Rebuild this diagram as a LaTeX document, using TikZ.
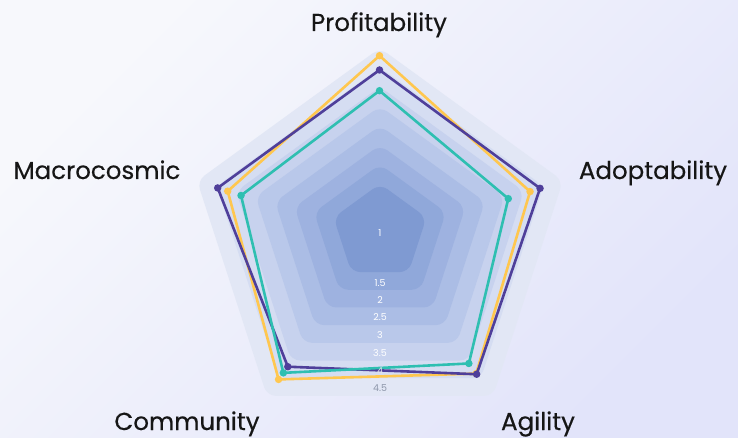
\documentclass[tikz,border=0pt]{standalone}
\usepackage{fontspec}
\setmainfont{Poppins}
\newfontfamily\labfont{Poppins}[FakeBold=0.4]
\definecolor{bgA}{HTML}{F7F8FC}
\definecolor{bgB}{HTML}{E2E4FA}
\definecolor{r7}{HTML}{E2E7F5}
\definecolor{r6}{HTML}{D5DDF2}
\definecolor{r5}{HTML}{C7D2EE}
\definecolor{r4}{HTML}{B9C8EA}
\definecolor{r3}{HTML}{ABBDE5}
\definecolor{r2}{HTML}{9EB2E0}
\definecolor{r1}{HTML}{90A8DA}
\definecolor{r0}{HTML}{7F9AD2}
\definecolor{cyel}{HTML}{FFC74F}
\definecolor{cpur}{HTML}{4F3F9A}
\definecolor{cteal}{HTML}{2EBFB1}
\definecolor{tickgray}{HTML}{8E97AA}
\definecolor{labink}{HTML}{161616}
\tikzset{
  lab/.style={font=\labfont\fontsize{24.5}{24.5}\selectfont, text=labink, anchor=base, inner sep=0pt},
  tick/.style={font=\fontsize{9.5}{9.5}\selectfont, text=white, inner sep=0pt},
  series/.style={line width=2.6pt, line join=round},
  dot/.style={circle, fill=#1, minimum size=7.5pt, inner sep=0pt}
}
\begin{document}
\begin{tikzpicture}[x=1pt,y=-1pt]
\useasboundingbox (0,0) rectangle (738,438);
\shade[top color=bgA, bottom color=bgB, shading angle=45] (0,0) rectangle (738,438);
% rings
\foreach \k/\col in {7/r7,6/r6,5/r5,4/r4,3/r3,2/r2,1/r1,0/r0} {
  \pgfmathsetmacro\R{48.8+20.5*\k}
  \pgfmathsetmacro\cy{232.6+1.1*\k}
  \begin{scope}[shift={(380,\cy)}]
    \fill[\col, rounded corners=9pt] (-90:\R) -- (-18:\R) -- (54:\R) -- (126:\R) -- (198:\R) -- cycle;
  \end{scope}
}
% data
\begin{scope}[shift={(379.5,240.5)}]
  \coordinate (y1) at (-90:184.8);
  \coordinate (y2) at (-18:158.3);
  \coordinate (y3) at (54:164.5);
  \coordinate (y4) at (126:171.7);
  \coordinate (y5) at (198:159.6);
  \coordinate (p1) at (-90:170.5);
  \coordinate (p2) at (-18:168.8);
  \coordinate (p3) at (54:165.3);
  \coordinate (p4) at (126:156);
  \coordinate (p5) at (198:170.1);
  \coordinate (q1) at (-90:149.8);
  \coordinate (q2) at (-18:135.4);
  \coordinate (q3) at (54:152);
  \coordinate (q4) at (126:163.6);
  \coordinate (q5) at (198:145.6);
\end{scope}
\draw[series, cyel] (y1) -- (y2) -- (y3) -- (y4) -- (y5) -- cycle;
\foreach \n in {y1,y2,y3,y4,y5} \node[dot=cyel] at (\n) {};
\draw[series, cpur] (p1) -- (p2) -- (p3) -- (p4) -- (p5) -- cycle;
\foreach \n in {p1,p2,p3,p4,p5} \node[dot=cpur] at (\n) {};
\draw[series, cteal] (q1) -- (q2) -- (q3) -- (q4) -- (q5) -- cycle;
\foreach \n in {q1,q2,q3,q4,q5} \node[dot=cteal] at (\n) {};
% tick labels
\node[tick] (t10) at (380,233) {1};
\node[tick] (t15) at (380,283) {1.5};
\node[tick] (t20) at (380,300) {2};
\node[tick] (t25) at (380,317.5) {2.5};
\node[tick] (t30) at (380,335) {3};
\node[tick] (t35) at (380,353) {3.5};
\node[tick, text=white!75!tickgray] (t40) at (380,371) {4};
\node[tick, text=tickgray] (t45) at (380,388.5) {4.5};
% axis names
\node[lab] (lP) at (379,31) {Profitability};
\node[lab] (lA) at (653,179) {Adoptability};
\node[lab] (lG) at (538,430) {Agility};
\node[lab] (lC) at (187,430) {Community};
\node[lab] (lM) at (97,179) {Macrocosmic};
\end{tikzpicture}
\end{document}
